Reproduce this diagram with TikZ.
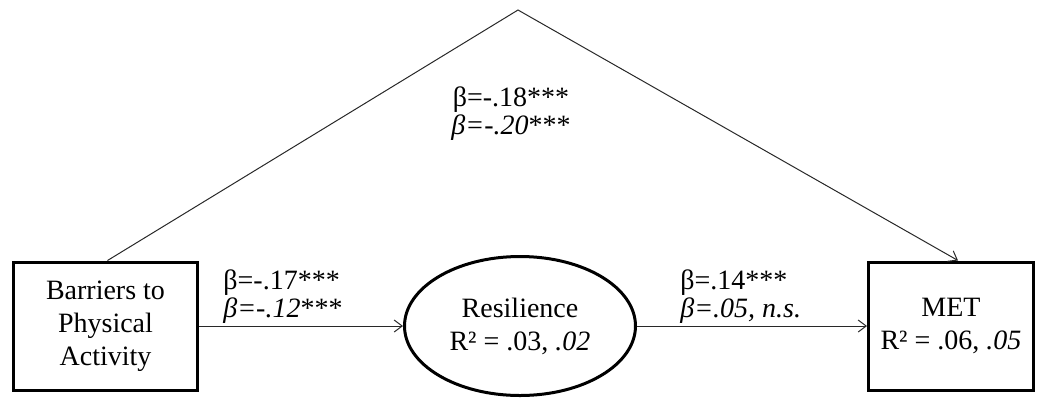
\documentclass[tikz,border=0pt]{standalone}
\usepackage{fontspec}
\setmainfont{Liberation Serif}
\usepackage{xcolor}
\usetikzlibrary{
  arrows.meta, positioning, shapes.geometric, calc,
}
\definecolor{pathcol}{RGB}{40,40,40}
\tikzset{
  varbox/.style={rectangle,draw,line width=1.5pt,minimum width=92pt,minimum height=64pt,
    align=center,inner sep=2pt,font=\fontsize{14}{16.5}\selectfont},
  latvar/.style={ellipse,draw,line width=1.5pt,minimum width=115.5pt,minimum height=69.5pt,
    align=center,inner sep=0pt,font=\fontsize{14}{16.5}\selectfont},
  patharrow/.style={-{Straight Barb[length=4pt,width=6pt]},line width=0.5pt,pathcol},
  coef/.style={align=left,inner sep=0pt,font=\fontsize{14}{14}\selectfont},
}

\begin{document}
\begin{tikzpicture}[x=0.5pt,y=-0.5pt]
  \useasboundingbox (0,0) rectangle (1046,398);
  \node[latvar] (resil) at (520,326) {Resilience\\R² = .03, \textit{.02}};
  \node[varbox,left=102pt of resil] (barriers) {Barriers to\\Physical\\Activity};
  \node[varbox,right=115pt of resil,minimum width=82.5pt] (met) {MET\\R² = .06, \textit{.05}};
  \coordinate (apex) at (518,10);
  \draw[patharrow] (barriers.east) -- (resil.west);
  \draw[patharrow] (resil.east) -- (met.west);
  \draw[patharrow] ([xshift=1pt]barriers.north) -- (apex) -- ([xshift=3.5pt]met.north);
  \node[coef,anchor=south west] (coefa) at (223,324) {β=-.17***\\\textit{β=-.12}***};
  \node[coef,anchor=south west] (coefb) at (680,324) {β=.14***\\\textit{β=.05, n.s.}};
  \node[coef,align=center] (coefc) at (511,114) {β=-.18***\\\textit{β=-.20}***};
\end{tikzpicture}
\end{document}
